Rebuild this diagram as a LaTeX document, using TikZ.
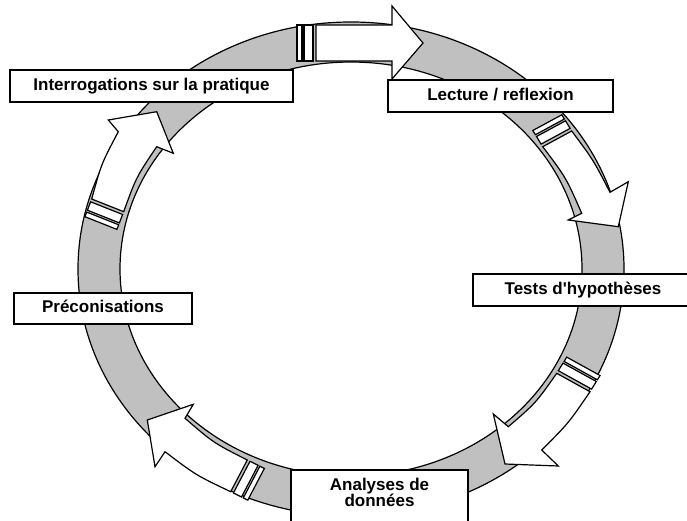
\documentclass[tikz,border=0pt]{standalone}
\usepackage{fontspec}
\newfontfamily\lbfont{Liberation Sans}
\definecolor{ringgray}{RGB}{192,192,192}
\tikzset{
  ringband/.style={fill=ringgray, draw=black, line width=1.2pt, even odd rule},
  arr/.style={fill=white, draw=black, line width=1.2pt, line join=miter},
  lbl/.style={draw=black, fill=white, line width=1.3pt, font=\lbfont\bfseries\fontsize{17}{17}\selectfont, text height=12.5pt, text depth=3.7pt, inner sep=0pt},
  lbltext/.style={font=\lbfont\bfseries\fontsize{17}{16.3}\selectfont, align=center, inner sep=0pt}
}
\begin{document}
\begin{tikzpicture}[x=1pt,y=-1pt]
\useasboundingbox (0,0) rectangle (687,521);
\fill[white] (0,0) rectangle (687,521);
% ring
\path[ringband] (351,269) ellipse [x radius=273pt, y radius=247pt] (351,269) ellipse [x radius=231pt, y radius=207pt];
% top arrow
\draw[arr] (297,25) rectangle (302,61);
\draw[arr] (304,25) rectangle (313,61);
\draw[arr] (316,25) -- (392,25) -- (392,6) -- (423,43) -- (392,79) -- (392,61) -- (316,61) -- cycle;
% right upper arrow
\draw[arr] (532.8,130.5) -- (561.8,114.8) -- (564.4,119) -- (535.4,134.7) -- cycle;
\draw[arr] (536.5,136.5) -- (565.5,120.8) -- (570.1,128.4) -- (541.1,144.1) -- cycle;
\draw[arr] (542.7,146.7) .. controls (566.1,177.7) .. (581.7,213.3) -- (568.3,220) -- (618.3,226.7) -- (628.3,181.7) -- (610,192.3) .. controls (593.4,160.1) .. (571.7,131) -- cycle;
% right lower arrow
\draw[arr] (566.7,357.1) -- (600,375.5) -- (597.4,379.8) -- (564.1,361.4) -- cycle;
\draw[arr] (563,363.1) -- (596.3,381.5) -- (591.6,389.1) -- (558.3,370.7) -- cycle;
\draw[arr] (556.7,373.3) .. controls (535.8,403) .. (508.3,426.7) -- (493.3,414) -- (505,464) -- (558.3,466) -- (541.7,450) .. controls (568.6,423.1) .. (590,391.7) -- cycle;
% bottom arrow
\draw[arr] (264.4,468.4) -- (259.9,466.2) -- (243.3,497.9) -- (247.8,500.1) -- cycle;
\draw[arr] (258.1,465.3) -- (250,461.3) -- (233.4,493) -- (241.5,497) -- cycle;
\draw[arr] (247.3,460) .. controls (213.7,443) .. (185,418.3) -- (193.3,404.3) -- (147.3,420) -- (155,466.7) -- (165,451.7) .. controls (195.8,475.1) .. (230.7,491.7) -- cycle;
% left arrow
\draw[arr] (116.9,229.4) -- (118.7,224.8) -- (86.7,212.1) -- (84.9,216.7) -- cycle;
\draw[arr] (119.4,222.9) -- (122.6,214.5) -- (90.6,201.8) -- (87.4,210.2) -- cycle;
\draw[arr] (123.7,211.7) .. controls (136.2,177.2) .. (156.7,146.7) -- (173.3,153.3) -- (156.7,111.7) -- (108.3,120) -- (118.3,131.7) .. controls (101.3,163.9) .. (91.7,199) -- cycle;
% labels
\node[lbl, minimum width=283pt, minimum height=32pt] (interro) at (151.5,86) {Interrogations sur la pratique};
\node[lbl, minimum width=225pt, minimum height=32pt] (lecture) at (500.5,96) {Lecture / reflexion};
\node[lbl, minimum width=220pt, minimum height=32pt] (tests) at (583,290) {Tests d'hypothèses};
\node[lbl, minimum width=178pt, minimum height=31pt] (precon) at (103,308.5) {Préconisations};
\node[lbl, minimum width=177pt, minimum height=62pt] (analysesbox) at (379.5,501) {};
\node[lbltext] (analyses) at (379.5,492.5) {Analyses de\\données};
\end{tikzpicture}
\end{document}
